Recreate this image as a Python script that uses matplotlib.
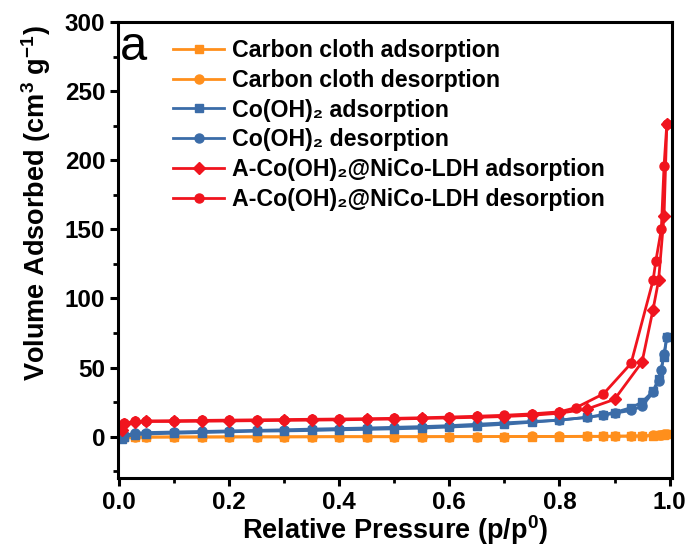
import matplotlib
matplotlib.use("Agg")
import matplotlib.pyplot as plt
from matplotlib.ticker import MultipleLocator

plt.rcParams['font.family'] = ['Liberation Sans', 'DejaVu Sans']
plt.rcParams['mathtext.fontset'] = 'custom'
plt.rcParams['mathtext.rm'] = 'Liberation Sans:bold'
plt.rcParams['mathtext.bf'] = 'Liberation Sans:bold'

# ---- data ----
p_ads = [0.005, 0.01, 0.03, 0.05, 0.10, 0.15, 0.20, 0.25, 0.30, 0.35, 0.40, 0.45, 0.50,
         0.55, 0.60, 0.65, 0.70, 0.75, 0.80, 0.85, 0.88, 0.90, 0.93, 0.95, 0.97, 0.98, 0.99, 0.995]
p_des = [0.995, 0.99, 0.985, 0.98, 0.97, 0.95, 0.93, 0.90, 0.88, 0.85, 0.80, 0.75, 0.70, 0.65,
         0.60, 0.55, 0.50, 0.45, 0.40, 0.35, 0.30, 0.25, 0.20, 0.15, 0.10, 0.05, 0.03, 0.01]

cc_ads = [-0.5, -0.4, -0.3, -0.3, -0.2, -0.2, -0.2, -0.1, -0.1, -0.1, 0.0, 0.0, 0.0,
          0.0, 0.0, 0.0, 0.1, 0.1, 0.1, 0.2, 0.2, 0.3, 0.4, 0.5, 0.8, 1.0, 1.5, 2.0]
cc_des = [2.0, 1.6, 1.3, 1.1, 0.9, 0.6, 0.5, 0.4, 0.3, 0.3, 0.2, 0.2, 0.1, 0.1,
          0.1, 0.0, 0.0, 0.0, 0.0, 0.0, -0.1, -0.1, -0.1, -0.2, -0.2, -0.3, -0.3, -0.4]

co_ads = [-2, 0, 1.5, 2, 2.5, 3, 3.5, 4, 4.2, 4.5, 5, 5.3, 5.7,
          6.2, 7, 7.8, 9, 10.5, 12, 14, 16, 17.5, 21, 25, 33, 42, 58, 72]
co_des = [72, 60, 48, 40, 32, 22, 19, 17, 15.5, 14, 12, 11, 10, 9,
          8, 7.3, 6.8, 6.3, 5.9, 5.5, 5, 4.6, 4.2, 3.8, 3.4, 3, 2.5, 1]

ldh_p_ads = [0.005, 0.01, 0.03, 0.05, 0.10, 0.15, 0.20, 0.25, 0.30, 0.35, 0.40, 0.45, 0.50,
             0.55, 0.60, 0.65, 0.70, 0.75, 0.80, 0.85, 0.90, 0.95, 0.97, 0.98, 0.99, 0.995]
ldh_ads = [5, 9.5, 10.5, 11, 11, 11.2, 11.4, 11.6, 11.8, 12, 12.2, 12.5, 12.8,
           13.2, 13.6, 14, 14.6, 15.5, 17, 20, 27, 54, 92, 113, 160, 226]
ldh_p_des = [0.995, 0.99, 0.985, 0.975, 0.97, 0.93, 0.88, 0.83, 0.80, 0.75, 0.70, 0.65, 0.60,
             0.55, 0.50, 0.45, 0.40, 0.35, 0.30, 0.25, 0.20, 0.15, 0.10, 0.05, 0.03, 0.01]
ldh_des = [226, 196, 150, 127, 113, 53, 31, 21, 18, 16.5, 15.5, 14.8, 14.2,
           13.7, 13.3, 13, 12.8, 12.6, 12.4, 12.2, 12, 11.8, 11.6, 11.4, 11, 10]

labels = ["Carbon cloth adsorption", "Carbon cloth desorption",
          "Co(OH)\u2082 adsorption", "Co(OH)\u2082 desorption",
          "A-Co(OH)\u2082@NiCo-LDH adsorption", "A-Co(OH)\u2082@NiCo-LDH desorption"]

orange = "#FF8F1C"
blue = "#3B6CA8"
red = "#F0141E"

fig = plt.figure(figsize=(6.89, 5.49), dpi=100)
ax = fig.add_axes([0.171, 0.129, 0.804, 0.831])

lw = 2.0
ms = 6.5
ax.plot(p_ads, cc_ads, color=orange, marker='s', ms=ms-0.5, lw=lw, label=labels[0])
ax.plot(p_des, cc_des, color=orange, marker='o', ms=ms, lw=lw, label=labels[1])
ax.plot(p_ads, co_ads, color=blue, marker='s', ms=ms-0.5, lw=lw, label=labels[2])
ax.plot(p_des, co_des, color=blue, marker='o', ms=ms, lw=lw, label=labels[3])
ax.plot(ldh_p_ads, ldh_ads, color=red, marker='D', ms=ms-0.8, lw=lw, label=labels[4])
ax.plot(ldh_p_des, ldh_des, color=red, marker='o', ms=ms, lw=lw, label=labels[5])

ax.set_xlim(-0.002, 1.004)
ax.set_ylim(-30, 300)
ax.xaxis.set_minor_locator(MultipleLocator(0.1))
ax.yaxis.set_minor_locator(MultipleLocator(25))
ax.set_xticks([0, 0.2, 0.4, 0.6, 0.8, 1.0])
ax.set_xticklabels(["0.0", "0.2", "0.4", "0.6", "0.8", "1.0"])
ax.set_yticks([0, 50, 100, 150, 200, 250, 300])

for s in ax.spines.values():
    s.set_linewidth(2.2)
ax.tick_params(which='major', direction='out', length=6, width=2.2,
               labelsize=17.5, pad=3)
ax.tick_params(which='minor', direction='out', length=3.5, width=2.0)
for t in ax.get_xticklabels() + ax.get_yticklabels():
    t.set_fontweight('bold')

ax.set_xlabel("Relative Pressure (p/p$^0$)", fontsize=19.5, fontweight='bold', labelpad=0)
ax.set_ylabel("Volume Adsorbed (cm$^3$ g$^{-1}$)", fontsize=19.5, fontweight='bold')
ax.yaxis.set_label_coords(-0.117, 0.603)

ax.text(0.004, 0.917, "a", transform=ax.transAxes, fontsize=35, va='baseline', ha='left')

leg = ax.legend(loc='upper left', bbox_to_anchor=(0.075, 0.993), frameon=False,
                prop={'weight': 'bold', 'size': 16.7}, handlelength=2.2,
                labelspacing=0.29, handletextpad=0.35, borderaxespad=0.2)

fig.savefig("out.png", dpi=100)
